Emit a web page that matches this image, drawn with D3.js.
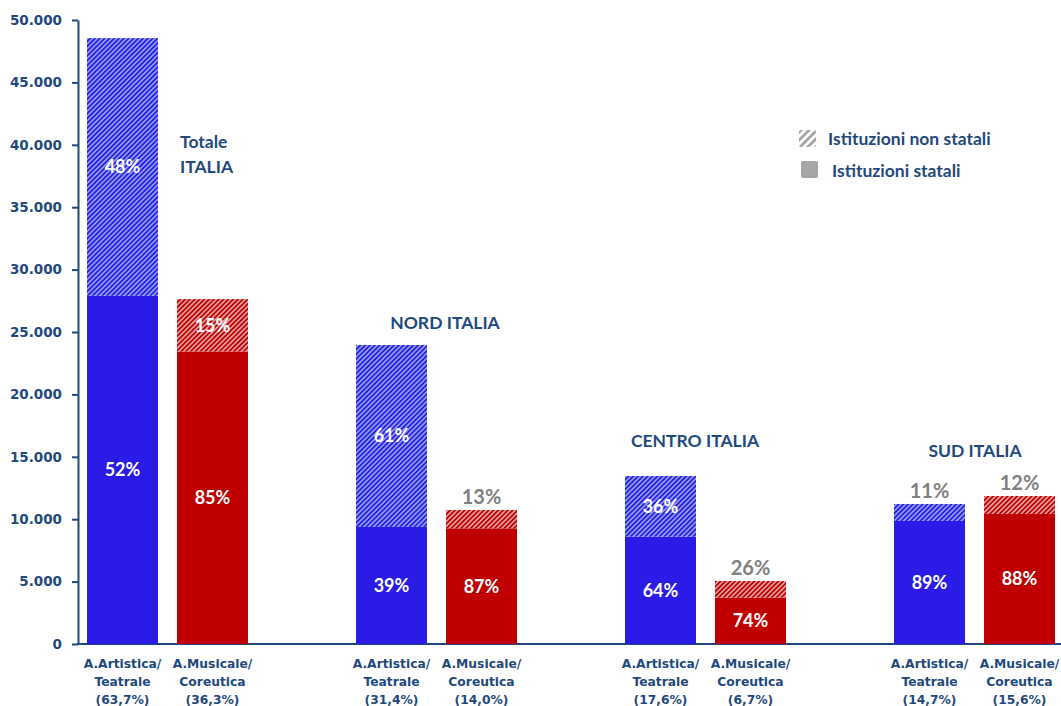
<!DOCTYPE html>
<html>
<head>
<meta charset="utf-8">
<script src="https://cdn.jsdelivr.net/npm/d3@7"></script>
<style>
  body { margin: 0; background: #fff; }
  svg { display: block; }
</style>
</head>
<body>
<div id="chart"></div>
<script>
// data
var groups = ["Totale ITALIA", "NORD ITALIA", "CENTRO ITALIA", "SUD ITALIA"];
var types = ["art", "mus"];
var typeNames = { art: ["A.Artistica/", "Teatrale"], mus: ["A.Musicale/", "Coreutica"] };

var artStatali    = [27900, 9380, 8600, 9860];
var artNonStatali = [20650, 14580, 4860, 1360];
var musStatali    = [23440, 9270, 3710, 10420];
var musNonStatali = [4200, 1470, 1340, 1440];

var artPctStatali = ["52%", "39%", "64%", "89%"];
var artPctNon     = ["48%", "61%", "36%", "11%"];
var musPctStatali = ["85%", "87%", "74%", "88%"];
var musPctNon     = ["15%", "13%", "26%", "12%"];

var artShare = ["(63,7%)", "(31,4%)", "(17,6%)", "(14,7%)"];
var musShare = ["(36,3%)", "(14,0%)", "(6,7%)", "(15,6%)"];

var yTicks = [0, 5000, 10000, 15000, 20000, 25000, 30000, 35000, 40000, 45000, 50000];

var legendLabels = ["Istituzioni non statali", "Istituzioni statali"];

// chart setup
var width = 1061, height = 706;
var axisColor = "#1F497D";
var colors = { art: "#2A1CE6", mus: "#C00000" };
var hatchLight = { art: "#8D9BEC", mus: "#E39C9C" };

var svg = d3.select("#chart").append("svg")
    .attr("width", width)
    .attr("height", height);

// hatch patterns
var defs = svg.append("defs");
function makeHatch(id, base, light, size) {
  var p = defs.append("pattern")
      .attr("id", id)
      .attr("patternUnits", "userSpaceOnUse")
      .attr("width", size)
      .attr("height", size)
      .attr("patternTransform", "rotate(45)");
  p.append("rect").attr("width", size).attr("height", size).attr("fill", base);
  p.append("rect").attr("width", size / 2).attr("height", size).attr("fill", light);
}
makeHatch("hatch-art", colors.art, hatchLight.art, 3.4);
makeHatch("hatch-mus", colors.mus, hatchLight.mus, 3.4);
makeHatch("hatch-legend", "#A6A6A6", "#ffffff", 5.5);

var y = d3.scaleLinear().domain([0, 50000]).range([644, 20]);

var x0 = d3.scaleBand()
    .domain(groups)
    .range([87, 1055])
    .paddingInner(108 / 269)
    .paddingOuter(0);

var x1 = d3.scaleBand()
    .domain(types)
    .range([0, x0.bandwidth()])
    .paddingInner(19 / 90)
    .paddingOuter(0);

var itLocale = d3.formatLocale({ decimal: ",", thousands: ".", grouping: [3], currency: ["", "€"] });
var fmt = itLocale.format(",");

// y axis
var yAxis = svg.append("g")
    .attr("transform", "translate(78,0)")
    .call(d3.axisLeft(y).tickValues(yTicks).tickFormat(fmt).tickSize(6).tickSizeOuter(0).tickPadding(10));
yAxis.select(".domain").attr("stroke", axisColor).attr("stroke-width", 2);
yAxis.selectAll(".tick line").attr("stroke", axisColor).attr("stroke-width", 2);
yAxis.selectAll(".tick text")
    .attr("fill", axisColor)
    .style("font-family", "'DejaVu Sans', sans-serif")
    .style("font-weight", "bold")
    .style("font-size", "13.5px");

// x axis line
svg.append("line")
    .attr("x1", 77).attr("x2", width)
    .attr("y1", y(0)).attr("y2", y(0))
    .attr("stroke", axisColor)
    .attr("stroke-width", 2);

// stacked series per type
var series = {
  art: { statali: artStatali, non: artNonStatali, pS: artPctStatali, pN: artPctNon, share: artShare },
  mus: { statali: musStatali, non: musNonStatali, pS: musPctStatali, pN: musPctNon, share: musShare }
};

var stack = d3.stack().keys(["statali", "non"]);

types.forEach(function(t) {
  var s = series[t];
  var rows = groups.map(function(g, i) {
    return { group: g, statali: s.statali[i], non: s.non[i], pS: s.pS[i], pN: s.pN[i], share: s.share[i] };
  });
  var layers = stack(rows);

  layers.forEach(function(layer) {
    var key = layer.key;
    var g = svg.append("g").attr("class", "layer-" + t + "-" + key);

    g.selectAll("rect")
      .data(layer)
      .enter().append("rect")
        .attr("x", function(d) { return x0(d.data.group) + x1(t); })
        .attr("y", function(d) { return y(d[1]); })
        .attr("width", x1.bandwidth())
        .attr("height", function(d) { return y(d[0]) - y(d[1]); })
        .attr("fill", key === "non" ? "url(#hatch-" + t + ")" : colors[t]);

    // small segments get a grey label above the bar
    g.selectAll("text")
      .data(layer)
      .enter().append("text")
        .attr("x", function(d) { return x0(d.data.group) + x1(t) + x1.bandwidth() / 2; })
        .attr("y", function(d) {
          var h = y(d[0]) - y(d[1]);
          if (h < 30) return y(d[1]) - 6;
          return (y(d[0]) + y(d[1])) / 2;
        })
        .attr("dy", function(d) { return (y(d[0]) - y(d[1]) < 30) ? 0 : "0.36em"; })
        .attr("text-anchor", "middle")
        .attr("fill", function(d) { return (y(d[0]) - y(d[1]) < 30) ? "#808080" : "#ffffff"; })
        .style("font-family", "Lato, sans-serif")
        .style("font-weight", "bold")
        .style("font-size", function(d) { return (y(d[0]) - y(d[1]) < 30) ? "20px" : "18px"; })
        .text(function(d) { return key === "non" ? d.data.pN : d.data.pS; });
  });

  // category labels under each bar
  var lab = svg.append("g").selectAll("text")
    .data(rows)
    .enter().append("text")
      .attr("x", function(d) { return x0(d.group) + x1(t) + x1.bandwidth() / 2; })
      .attr("y", 668)
      .attr("text-anchor", "middle")
      .attr("fill", axisColor)
      .style("font-family", "'DejaVu Sans', sans-serif")
      .style("font-weight", "bold")
      .style("font-size", "12.3px");
  lab.append("tspan").attr("x", function(d) { return x0(d.group) + x1(t) + x1.bandwidth() / 2; })
      .text(typeNames[t][0]);
  lab.append("tspan").attr("x", function(d) { return x0(d.group) + x1(t) + x1.bandwidth() / 2; })
      .attr("dy", 18).text(typeNames[t][1]);
  lab.append("tspan").attr("x", function(d) { return x0(d.group) + x1(t) + x1.bandwidth() / 2; })
      .attr("dy", 18).text(function(d) { return d.share; });
});

// group titles
var titleStyle = function(sel) {
  sel.attr("fill", axisColor)
    .style("font-family", "Lato, sans-serif")
    .style("font-weight", "bold")
    .style("font-size", "17.5px");
};
var tot = svg.append("text").attr("x", 180).attr("y", 148).call(titleStyle);
tot.append("tspan").attr("x", 180).text("Totale");
tot.append("tspan").attr("x", 180).attr("dy", 25).text("ITALIA");

svg.append("text").attr("x", 445).attr("y", 329).attr("text-anchor", "middle").call(titleStyle).text(groups[1]);
svg.append("text").attr("x", 695).attr("y", 447).attr("text-anchor", "middle").call(titleStyle).text(groups[2]);
svg.append("text").attr("x", 975).attr("y", 457).attr("text-anchor", "middle").call(titleStyle).text(groups[3]);

// legend
var legend = svg.append("g");
legend.append("rect")
    .attr("x", 799).attr("y", 130).attr("width", 17).attr("height", 17)
    .attr("rx", 2).attr("fill", "url(#hatch-legend)");
legend.append("rect")
    .attr("x", 801).attr("y", 161).attr("width", 17).attr("height", 17)
    .attr("rx", 2).attr("fill", "#A6A6A6");
legend.append("text").attr("x", 828).attr("y", 145).call(titleStyle)
    .style("font-size", "17.5px").text(legendLabels[0]);
legend.append("text").attr("x", 832).attr("y", 177).call(titleStyle)
    .style("font-size", "17.5px").text(legendLabels[1]);
</script>
</body>
</html>
